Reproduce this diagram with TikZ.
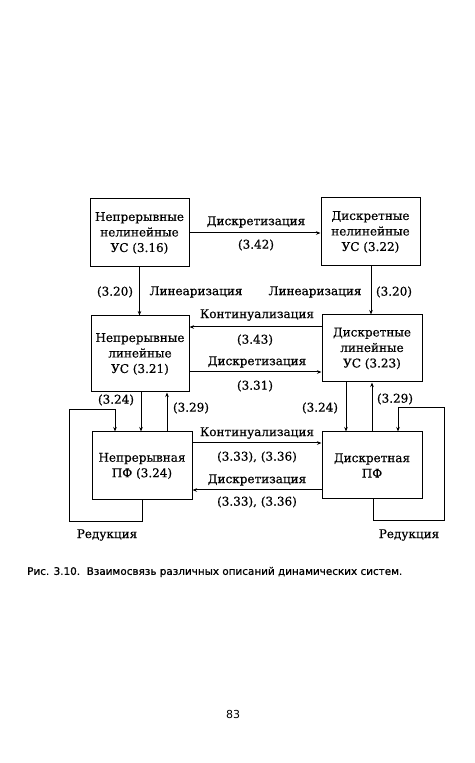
\documentclass[tikz,border=0pt]{standalone}
\usepackage{fontspec}
\setmainfont[FakeBold=0.5]{DejaVu Serif}
\newfontfamily\capfont[FakeBold=0.8]{DejaVu Sans}
\newfontfamily\pgfont{DejaVu Sans}
\usetikzlibrary{arrows.meta}
\begin{document}
\begin{tikzpicture}[x=1pt,y=1pt,
  box/.style={draw,line width=1pt,inner sep=0pt,align=center,font=\fontsize{12}{15.5}\selectfont},
  lbl/.style={inner sep=0pt,font=\fontsize{12}{15.5}\selectfont},
  arr/.style={line width=1pt,-{Stealth[length=4.5pt,width=3.5pt]}}]
\useasboundingbox (0,0) rectangle (474,763);
\fill[white] (0,0) rectangle (474,763);
% boxes
\node[box,minimum width=99pt,minimum height=68pt] (b1) at (139.5,530) {Непрерывные\\нелинейные\\УС (3.16)};
\node[box,minimum width=99pt,minimum height=68pt] (b2) at (370.5,531) {Дискретные\\нелинейные\\УС (3.22)};
\node[box,minimum width=98pt,minimum height=76pt] (b3) at (140,409) {Непрерывные\\линейные\\УС (3.21)};
\node[box,minimum width=100pt,minimum height=67pt] (b4) at (372,414.5) {Дискретные\\линейные\\УС (3.23)};
\node[box,minimum width=100pt,minimum height=68pt] (b5) at (142,297) {Непрерывная\\ПФ (3.24)};
\node[box,minimum width=100pt,minimum height=67pt] (b6) at (372,297.5) {Дискретная\\ПФ};
% top horizontal
\draw[arr] (b1.east) -- (b1.east -| b2.west);
% linearization
\draw[arr] (b1.south) -- (b1.south |- b3.north);
\draw[arr] ([xshift=0.5pt]b2.south) -- ([xshift=0.5pt]b2.south |- b4.north);
% middle horizontals
\draw[arr] ([yshift=27pt]b3.east -| b4.west) -- ([yshift=27pt]b3.east);
\draw[arr] ([yshift=-18pt]b3.east) -- ([yshift=-18pt]b3.east -| b4.west);
% bottom horizontals
\draw[arr] ([yshift=23pt]b5.east) -- ([yshift=23pt]b5.east -| b6.west);
\draw[arr] ([yshift=-24pt]b5.east -| b6.west) -- ([yshift=-24pt]b5.east);
% verticals left
\draw[arr] ([xshift=1pt]b3.south) -- ([xshift=1pt]b3.south |- b5.north);
\draw[arr] ([xshift=27pt]b3.south |- b5.north) -- ([xshift=27pt]b3.south);
% verticals right
\draw[arr] ([xshift=-26pt]b4.south) -- ([xshift=-26pt]b4.south |- b6.north);
\draw[arr] (b4.south |- b6.north) -- (b4.south);
% reduction loops
\coordinate (l1) at (69,241);
\coordinate (l2) at (69,353);
\draw[arr] (b5.south) |- (l1) -- (l2) -| ([xshift=-27pt]b5.north);
\coordinate (r1) at (444,242);
\coordinate (r2) at (444,355);
\draw[arr] ([xshift=1pt]b6.south) |- (r1) -- (r2) -| ([xshift=26pt]b6.north);
% labels
\node[lbl] (t1) at (256,541) {Дискретизация};
\node[lbl] (t2) at (256,518) {(3.42)};
\node[lbl] (t3) at (115,471) {(3.20)};
\node[lbl] (t4) at (196,471) {Линеаризация};
\node[lbl] (t5) at (315,471) {Линеаризация};
\node[lbl] (t6) at (394,471) {(3.20)};
\node[lbl] (t7) at (257,448) {Континуализация};
\node[lbl] (t8) at (255,423) {(3.43)};
\node[lbl] (t9) at (257,401) {Дискретизация};
\node[lbl] (t10) at (255,377) {(3.31)};
\node[lbl] (t11) at (116,363) {(3.24)};
\node[lbl] (t12) at (191,355) {(3.29)};
\node[lbl] (t13) at (320,355) {(3.24)};
\node[lbl] (t14) at (395,364) {(3.29)};
\node[lbl] (t15) at (257,330) {Континуализация};
\node[lbl] (t16) at (257,306) {(3.33), (3.36)};
\node[lbl] (t17) at (257,283) {Дискретизация};
\node[lbl] (t18) at (257,261) {(3.33), (3.36)};
\node[lbl] (t19) at (107,228) {Редукция};
\node[lbl] (t20) at (409,228) {Редукция};
\node[inner sep=0pt,anchor=west,font=\capfont\fontsize{10.4}{12}\selectfont] (cap) at (27,191) {Рис. 3.10.\ \ Взаимосвязь различных описаний динамических систем.};
\node[inner sep=0pt,font=\pgfont\fontsize{11}{13}\selectfont] (pg) at (233,49) {83};
\end{tikzpicture}
\end{document}
